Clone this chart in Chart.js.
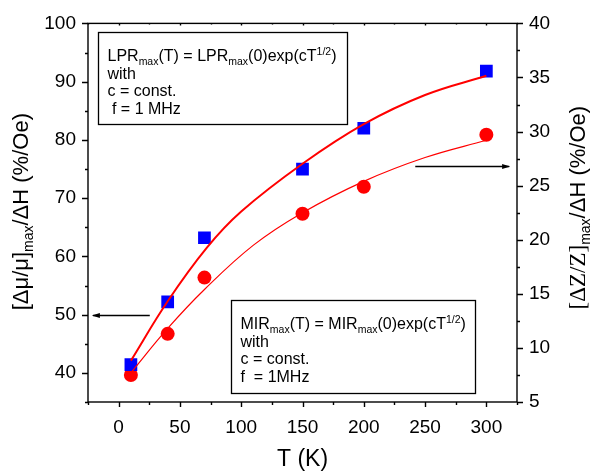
<!DOCTYPE html>
<html><head><meta charset="utf-8">
<script src="https://cdn.jsdelivr.net/npm/chart.js@4/dist/chart.umd.min.js"></script>
<style>html,body{margin:0;padding:0;background:#fff;} canvas{display:block;}</style>
</head><body>
<canvas id="c" width="594" height="473"></canvas>
<script>
// ---- data ----
const temperatures = [10, 40, 70, 150, 200, 300];
const permeabilityRatio = [41.4, 52.2, 63.2, 75.0, 82.0, 91.8];   // [Δμ/μ]max/ΔH, left axis, blue squares
const impedanceRatio = [7.5, 11.3, 16.5, 22.4, 24.9, 29.7];       // [ΔZ/Z]max/ΔH, right axis, red circles
const fitPermT = [10, 40, 72, 100, 150, 200, 250, 300];
const fitPermV = [42.1, 52.3, 61.5, 67.7, 75.9, 82.7, 87.7, 91.0];
const fitImpT = [10, 40, 70, 110, 150, 200, 250, 300];
const fitImpV = [7.7, 11.8, 15.4, 19.5, 22.5, 25.4, 27.6, 29.2];
const xTickLabels = [0, 50, 100, 150, 200, 250, 300];
const leftTickLabels = [40, 50, 60, 70, 80, 90, 100];
const rightTickLabels = [5, 10, 15, 20, 25, 30, 35, 40];

const FONT = "'Liberation Sans', Arial, sans-serif";
const SERIF = "'Liberation Serif', 'Times New Roman', serif";
const toXY = (xs, ys) => xs.map((x, i) => ({x: x, y: ys[i]}));
const labelCb = list => v => list.some(l => Math.abs(l - v) < 1e-9) ? String(v) : '';

function drawRich(ctx, x, y, parts) {
  let cx = x;
  parts.forEach(p => {
    ctx.font = (p.size) + 'px ' + (p.family || FONT);
    ctx.fillText(p.t, cx, y + (p.dy || 0));
    cx += ctx.measureText(p.t).width;
  });
  return cx - x;
}
function richWidth(ctx, parts) {
  let w = 0;
  parts.forEach(p => { ctx.font = p.size + 'px ' + (p.family || FONT); w += ctx.measureText(p.t).width; });
  return w;
}

const decor = {
  id: 'decor',
  afterDraw(chart) {
    const ctx = chart.ctx, a = chart.chartArea;
    const sx = chart.scales.x, sy = chart.scales.y, sy2 = chart.scales.y2;
    ctx.save();
    ctx.strokeStyle = '#000';
    ctx.fillStyle = '#000';
    ctx.lineWidth = 1.4;
    ctx.strokeRect(a.left, a.top, a.right - a.left, a.bottom - a.top);
    ctx.beginPath();
    sx.ticks.forEach(t => {
      const px = Math.round(sx.getPixelForValue(t.value)) + 0.5;
      const major = t.label !== '';
      ctx.moveTo(px, a.bottom); ctx.lineTo(px, a.bottom + (major ? 5 : 3));
      ctx.moveTo(px, a.top); ctx.lineTo(px, a.top + (major ? 2 : 1));
    });
    sy.ticks.forEach(t => {
      const py = Math.round(sy.getPixelForValue(t.value)) + 0.5;
      const major = t.label !== '';
      ctx.moveTo(a.left, py); ctx.lineTo(a.left - (major ? 6 : 3), py);
    });
    sy2.ticks.forEach(t => {
      const py = Math.round(sy2.getPixelForValue(t.value)) + 0.5;
      const major = t.label !== '';
      ctx.moveTo(a.right, py); ctx.lineTo(a.right + (major ? 6 : 3), py);
    });
    ctx.stroke();

    // annotation boxes
    ctx.lineWidth = 1.3;
    ctx.textBaseline = 'alphabetic';
    ctx.textAlign = 'left';
    const boxes = [
      {x0: -17, x1: 186.3, y0: 98.6, y1: 82.75, lines: [
        [{t: 'LPR', size: 16}, {t: 'max', size: 10.5, dy: 4}, {t: '(T) = LPR', size: 16}, {t: 'max', size: 10.5, dy: 4}, {t: '(0)exp(cT', size: 16}, {t: '1/2', size: 10.5, dy: -6}, {t: ')', size: 16}],
        [{t: 'with', size: 16}],
        [{t: 'c = const.', size: 16}],
        [{t: ' f = 1 MHz', size: 16}]
      ]},
      {x0: 91.9, x1: 290.9, y0: 52.5, y1: 36.5, lines: [
        [{t: 'MIR', size: 16}, {t: 'max', size: 10.5, dy: 4}, {t: '(T) = MIR', size: 16}, {t: 'max', size: 10.5, dy: 4}, {t: '(0)exp(cT', size: 16}, {t: '1/2', size: 10.5, dy: -6}, {t: ')', size: 16}],
        [{t: 'with', size: 16}],
        [{t: 'c = const.', size: 16}],
        [{t: 'f  = 1MHz', size: 16}]
      ]}
    ];
    const offs = [28, 46, 63.5, 81.5];
    boxes.forEach(b => {
      const L = Math.round(sx.getPixelForValue(b.x0)) + 0.5, R = Math.round(sx.getPixelForValue(b.x1)) + 0.5;
      const T = Math.round(sy.getPixelForValue(b.y0)) + 0.5, B = Math.round(sy.getPixelForValue(b.y1)) + 0.5;
      ctx.fillStyle = '#fff';
      ctx.fillRect(L, T, R - L, B - T);
      ctx.strokeRect(L, T, R - L, B - T);
      ctx.fillStyle = '#000';
      b.lines.forEach((ln, i) => drawRich(ctx, L + 9, T + offs[i], ln));
    });

    // arrows
    function arrow(x0, x1, py) {
      ctx.lineWidth = 1.6;
      ctx.beginPath(); ctx.moveTo(x0, py); ctx.lineTo(x1, py); ctx.stroke();
      const dir = Math.sign(x1 - x0);
      ctx.beginPath(); ctx.moveTo(x1 + dir * 1, py); ctx.lineTo(x1 - dir * 7, py - 2.5); ctx.lineTo(x1 - dir * 7, py + 2.5); ctx.closePath(); ctx.fill();
    }
    arrow(sx.getPixelForValue(25.4), sx.getPixelForValue(-21), Math.round(sy.getPixelForValue(50)) + 0.5);
    arrow(sx.getPixelForValue(242), sx.getPixelForValue(318.6), Math.round(sy2.getPixelForValue(26.8)) + 0.5);

    // rotated axis titles
    const cy = (a.top + a.bottom) / 2;
    function rotTitle(bx, ccy, parts) {
      ctx.save();
      ctx.translate(bx, ccy);
      ctx.rotate(-Math.PI / 2);
      const w = richWidth(ctx, parts);
      drawRich(ctx, -w / 2, 0, parts);
      ctx.restore();
    }
    rotTitle(28, cy - 1, [{t: '[\u0394\u03BC/\u03BC]', size: 22}, {t: 'max', size: 14, dy: 5}, {t: '/\u0394H (%/Oe)', size: 22}]);
    rotTitle(585, cy - 5, [{t: '[\u0394Z/Z]', size: 23, family: SERIF}, {t: 'max', size: 14, dy: 5}, {t: '/\u0394H (%/Oe)', size: 22}]);
    ctx.restore();
  }
};

const tickFont = {size: 19, family: FONT};
new Chart(document.getElementById('c'), {
  type: 'scatter',
  data: {
    datasets: [
      {label: 'LPR fit', data: toXY(fitPermT, fitPermV), yAxisID: 'y', showLine: true, borderColor: '#ff0000', borderWidth: 2, pointRadius: 0, tension: 0.4, fill: false},
      {label: 'MIR fit', data: toXY(fitImpT, fitImpV), yAxisID: 'y2', showLine: true, borderColor: '#ff0000', borderWidth: 1.2, pointRadius: 0, tension: 0.4, fill: false},
      {label: '[Δμ/μ]max/ΔH', data: toXY(temperatures, permeabilityRatio), yAxisID: 'y', showLine: false, pointStyle: 'rect', pointRadius: 9, backgroundColor: '#0000ff', borderWidth: 0},
      {label: '[ΔZ/Z]max/ΔH', data: toXY(temperatures, impedanceRatio), yAxisID: 'y2', showLine: false, pointStyle: 'circle', pointRadius: 7, backgroundColor: '#ff0000', borderWidth: 0}
    ]
  },
  options: {
    responsive: false, animation: false, devicePixelRatio: 1,
    layout: {padding: {top: 21, left: 0, right: 0, bottom: 0}},
    plugins: {legend: {display: false}, tooltip: {enabled: false}},
    scales: {
      x: {type: 'linear', position: 'bottom', min: -25, max: 325,
        ticks: {stepSize: 25, autoSkip: false, maxRotation: 0, padding: 14, font: tickFont, color: '#000', callback: labelCb(xTickLabels)},
        grid: {display: false, drawTicks: false}, border: {display: false},
        title: {display: true, text: 'T (K)', font: {size: 23, family: FONT}, color: '#000', padding: {top: 0, bottom: 0}},
        afterFit(s) { s.height = 71; }},
      y: {type: 'linear', position: 'left', min: 35, max: 100,
        ticks: {stepSize: 5, autoSkip: false, padding: 12, font: tickFont, color: '#000', callback: labelCb(leftTickLabels)},
        grid: {display: false, drawTicks: false}, border: {display: false},
        afterFit(s) { s.width = 88; }},
      y2: {type: 'linear', position: 'right', min: 5, max: 40,
        ticks: {stepSize: 2.5, autoSkip: false, padding: 12, font: tickFont, color: '#000', callback: labelCb(rightTickLabels)},
        grid: {display: false, drawTicks: false}, border: {display: false},
        afterFit(s) { s.width = 77; }}
    }
  },
  plugins: [decor]
});
</script>
</body></html>
